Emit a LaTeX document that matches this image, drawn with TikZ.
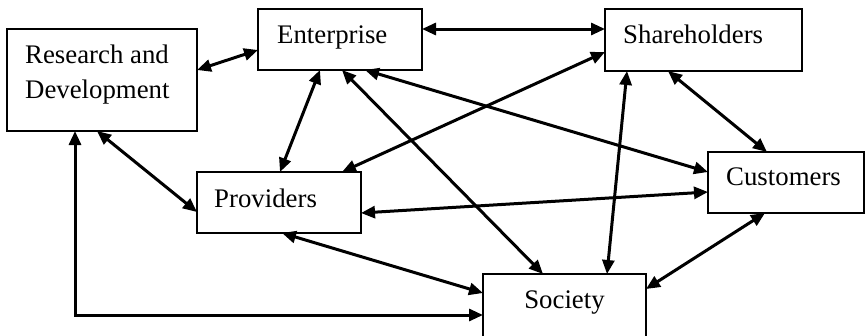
\documentclass[tikz,border=0pt]{standalone}
\usepackage{fontspec}
\setmainfont{Liberation Serif}
\usetikzlibrary{arrows.meta}
\begin{document}
\begin{tikzpicture}[x=1pt,y=-1pt,
  box/.style={draw=black,line width=1.6pt,inner sep=0pt,outer sep=0pt,anchor=north west},
  lbl/.style={inner sep=0pt,font=\fontsize{26.8}{35}\selectfont},
  link/.style={line width=3pt,{Triangle[length=14pt,width=12pt]}-{Triangle[length=14pt,width=12pt]}}]
\useasboundingbox (0,0) rectangle (865,335);

% boxes
\node[box,minimum width=190pt,minimum height=102pt] (rd) at (7,29) {};
\node[box,minimum width=164pt,minimum height=61pt] (ent) at (258,9) {};
\node[box,minimum width=197pt,minimum height=62pt] (sh) at (605,9) {};
\node[box,minimum width=156pt,minimum height=61pt] (cu) at (708,152) {};
\node[box,minimum width=164pt,minimum height=61pt] (pr) at (197,172) {};
\node[box,minimum width=163pt,minimum height=70pt] (so) at (483,274) {};

% labels
\node[lbl,anchor=base west] (rdt1) at ([xshift=18pt,yshift=-34pt]rd.north west) {Research and};
\node[lbl,anchor=base west] (rdt2) at ([xshift=18pt,yshift=-69pt]rd.north west) {Development};
\node[lbl,anchor=base west] (entt) at ([xshift=19pt,yshift=-34pt]ent.north west) {Enterprise};
\node[lbl,anchor=base west] (sht) at ([xshift=18pt,yshift=-34pt]sh.north west) {Shareholders};
\node[lbl,anchor=base west] (cut) at ([xshift=18pt,yshift=-33pt]cu.north west) {Customers};
\node[lbl,anchor=base west] (prt) at ([xshift=17pt,yshift=-35pt]pr.north west) {Providers};
\node[lbl,anchor=base] (sot) at ([xshift=81.5pt,yshift=-34pt]so.north west) {Society};

% connectors
\draw[link] ([yshift=-41pt]rd.north east) -- ([yshift=-41pt]ent.north west);
\draw[link] ([yshift=-20pt]ent.north east) -- ([yshift=-20pt]sh.north west);
\draw[link] ([xshift=62pt]ent.south west) -- ([xshift=83pt]pr.north west);
\draw[link] ([xshift=84pt]ent.south west) -- ([xshift=60pt]so.north west);
\draw[link] ([xshift=107pt]ent.south west) -- ([yshift=-20pt]cu.north west);
\draw[link] ([yshift=-43pt]sh.north west) -- ([xshift=145pt]pr.north west);
\draw[link] ([xshift=22pt]sh.south west) -- ([xshift=124pt]so.north west);
\draw[link] ([xshift=63pt]sh.south west) -- ([xshift=59pt]cu.north west);
\draw[link] ([yshift=-41pt]pr.north east) -- ([yshift=-40pt]cu.north west);
\draw[link] ([xshift=85pt]pr.south west) -- ([yshift=-19pt]so.north west);
\draw[link] ([xshift=90pt]rd.south west) -- ([yshift=-40pt]pr.north west);
\draw[link] ([xshift=68pt]rd.south west) |- ([yshift=-41pt]so.north west);
\draw[link] ([xshift=57pt]cu.south west) -- ([yshift=-15pt]so.north east);
\end{tikzpicture}
\end{document}
